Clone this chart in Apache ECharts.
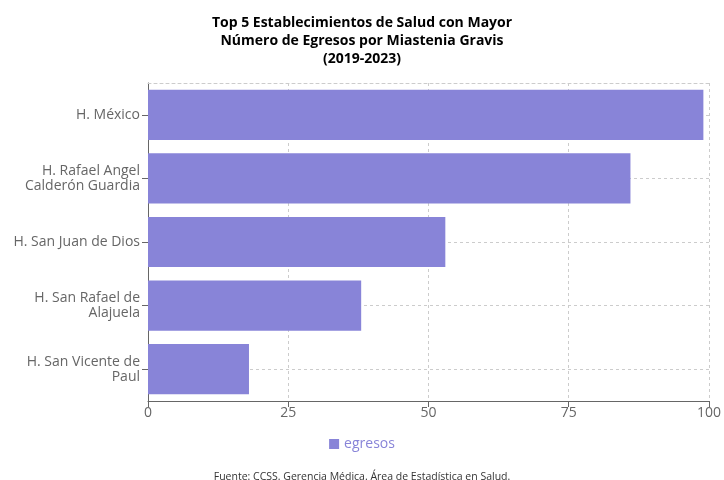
<!DOCTYPE html>
<html><head><meta charset="utf-8">
<script src="https://cdn.jsdelivr.net/npm/echarts@6/dist/echarts.min.js"></script>
<style>html,body{margin:0;padding:0;background:#fff}#c{width:724px;height:480px}</style>
</head><body><div id="c"></div>
<script>
const categories = ["H. México", "H. Rafael Angel\nCalderón Guardia", "H. San Juan de Dios", "H. San Rafael de\nAlajuela", "H. San Vicente de\nPaul"];
const egresos = [99, 86, 53, 38, 18];
const xTicks = [0, 25, 50, 75, 100];
const titleLines = ["Top 5 Establecimientos de Salud con Mayor", "Número de Egresos por Miastenia Gravis", "(2019-2023)"];
const footnote = "Fuente: CCSS. Gerencia Médica. Área de Estadística en Salud.";
const seriesName = "egresos";

const font = "'Open Sans', 'Noto Sans', sans-serif";
const chart = echarts.init(document.getElementById('c'));
chart.setOption({
  animation: false,
  textStyle: {fontFamily: font},
  title: [
    {text: titleLines.join("\n"), left: 'center', top: 9,
     textStyle: {fontSize: 14, fontWeight: 'bold', color: '#000', lineHeight: 18, fontFamily: font}},
    {text: footnote, left: 'center', top: 467,
     textStyle: {fontSize: 10.5, fontWeight: 'normal', color: '#333', fontFamily: font}}
  ],
  legend: {data: [seriesName], left: 'center', top: 432, icon: 'rect', itemWidth: 10, itemHeight: 10, itemGap: 4,
    textStyle: {color: '#8884d8', fontSize: 14, fontFamily: font}},
  grid: {left: 148, right: 14, top: 83, bottom: 79, containLabel: false},
  xAxis: [{
    type: 'value', min: xTicks[0], max: xTicks[xTicks.length-1], interval: 25,
    axisLine: {show: true, lineStyle: {color: '#666'}},
    axisTick: {show: true, length: 6, lineStyle: {color: '#666'}},
    axisLabel: {color: '#666', fontSize: 14, margin: 5, fontFamily: font},
    splitLine: {show: true, lineStyle: {color: '#ccc', type: [3, 3]}}
  }, {
    type: 'value', position: 'top', min: 0, max: 100,
    axisLine: {show: true, lineStyle: {color: '#ccc', type: [3, 3]}},
    axisTick: {show: false}, axisLabel: {show: false}, splitLine: {show: false}
  }],
  yAxis: {
    type: 'category', data: categories, inverse: true,
    axisLine: {show: true, lineStyle: {color: '#666'}},
    axisTick: {show: true, alignWithLabel: true, length: 6, lineStyle: {color: '#666'}},
    axisLabel: {color: '#666', fontSize: 14, margin: 8, lineHeight: 15, align: 'right', fontFamily: font},
    splitLine: {show: true, alignWithLabel: true, lineStyle: {color: '#ccc', type: [3, 3]}}
  },
  series: [{
    name: seriesName, type: 'bar', data: egresos, barCategoryGap: '21%',
    itemStyle: {color: '#8884d8'}
  }]
});
</script></body></html>
